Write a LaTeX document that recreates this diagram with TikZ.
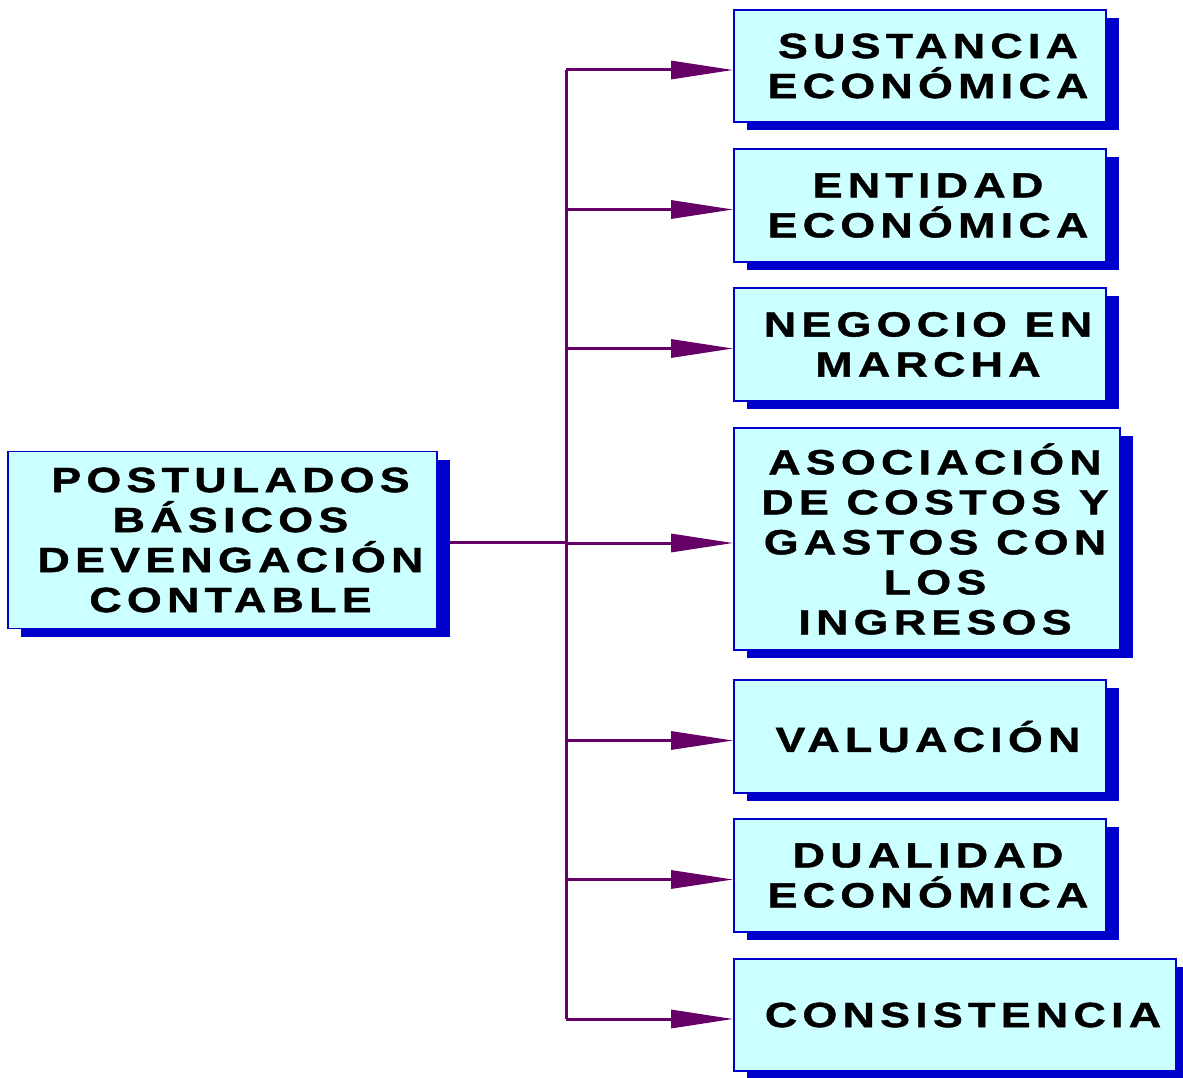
\documentclass[tikz,border=0pt]{standalone}
\usepackage{fontspec}
\setmainfont{Liberation Sans}[FakeStretch=1.28,LetterSpace=15,FakeBold=1.2]
\usetikzlibrary{arrows.meta,shadows}
\pgfdeclarelayer{bg}
\pgfsetlayers{bg,main}
\definecolor{boxfill}{RGB}{204,255,255}
\definecolor{boxline}{RGB}{0,0,204}
\definecolor{connc}{RGB}{102,0,102}
\newcommand\mkline[1]{\makebox[0pt]{\hspace{16pt}#1}}
\tikzset{
  box/.style={draw=boxline, line width=1.6pt, fill=boxfill, inner sep=0pt,
    align=center, font=\fontsize{35}{40}\selectfont\bfseries,
    drop shadow={shadow xshift=13pt, shadow yshift=-8pt, fill=boxline, opacity=1}},
  conn/.style={draw=connc, line width=3pt},
  arr/.style={conn, -{Triangle[length=62pt,width=18pt]}}
}
\begin{document}
\begin{tikzpicture}[x=1pt,y=-1pt]
\useasboundingbox (0,0) rectangle (1183,1078);
\node[box, minimum width=429pt, minimum height=177pt] (main) at (222.5,540)
  {\mkline{POSTULADOS}\\\mkline{BÁSICOS}\\\mkline{DEVENGACIÓN}\\\mkline{CONTABLE}};
\node[box, minimum width=372pt, minimum height=112pt] (b1) at (920,66)
  {\mkline{SUSTANCIA}\\\mkline{ECONÓMICA}};
\node[box, minimum width=372pt, minimum height=113pt] (b2) at (920,205.5)
  {\mkline{ENTIDAD}\\\mkline{ECONÓMICA}};
\node[box, minimum width=372pt, minimum height=113pt] (b3) at (920,344.5)
  {\mkline{NEGOCIO EN}\\\mkline{MARCHA}};
\node[box, minimum width=386pt, minimum height=222pt] (b4) at (927,539)
  {\mkline{ASOCIACIÓN}\\\mkline{DE COSTOS Y}\\\mkline{GASTOS CON}\\\mkline{LOS}\\\mkline{INGRESOS}};
\node[box, minimum width=372pt, minimum height=113pt] (b5) at (920,736.5)
  {\mkline{VALUACIÓN}};
\node[box, minimum width=372pt, minimum height=113pt] (b6) at (920,875.5)
  {\mkline{DUALIDAD}\\\mkline{ECONÓMICA}};
\node[box, minimum width=442pt, minimum height=112pt] (b7) at (955,1015)
  {\mkline{CONSISTENCIA}};
\coordinate (hub) at (566,542);
\coordinate (top) at (566,70);
\coordinate (bot) at (566,1019);
\begin{pgfonlayer}{bg}
\draw[conn] (main.east |- hub) -- (hub);
\end{pgfonlayer}
\draw[conn] (top) -- (bot);
\foreach \b in {b1,b2,b3,b4,b5,b6,b7}{
  \draw[arr] ([yshift=-4pt]\b.west -| hub) -- ([yshift=-4pt]\b.west);
}
\end{tikzpicture}
\end{document}
